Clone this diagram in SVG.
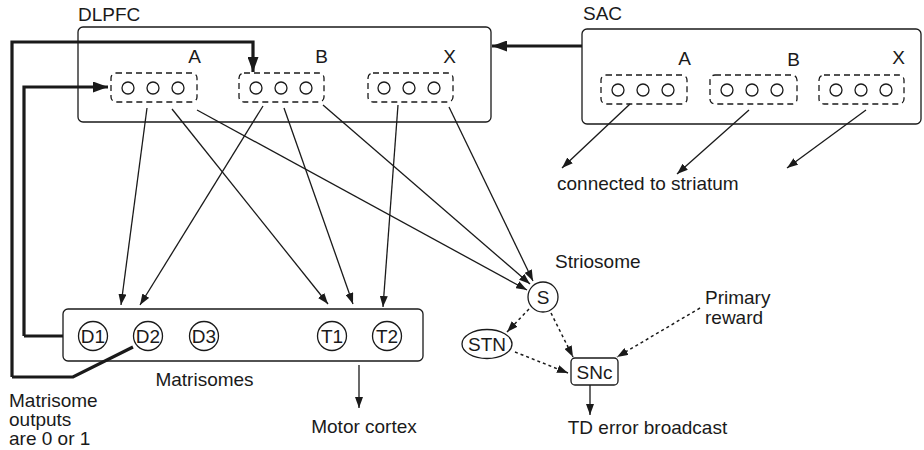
<svg xmlns="http://www.w3.org/2000/svg" width="924" height="450" viewBox="0 0 924 450">
<defs>
<style>
text{font-family:"Liberation Sans",Arial,sans-serif;font-size:19px;fill:#1a1a1a}
.box{fill:#fff;stroke:#1a1a1a;stroke-width:1.3}
.grp{fill:none;stroke:#1a1a1a;stroke-width:1.3;stroke-dasharray:6 4}
.unit{fill:#fff;stroke:#1a1a1a;stroke-width:1.3}
.node{fill:#fff;stroke:#1a1a1a;stroke-width:1.3}
.lbl{font-size:19px;text-anchor:middle}
.ln{fill:none;stroke:#1a1a1a;stroke-width:1.3;marker-end:url(#ah)}
.dl{fill:none;stroke:#1a1a1a;stroke-width:1.5;stroke-dasharray:3 3;marker-end:url(#ah)}
.tk{fill:none;stroke:#1a1a1a;stroke-width:3.2}
.tka{fill:none;stroke:#1a1a1a;stroke-width:3.2;marker-end:url(#ahk)}
</style>
<marker id="ah" markerUnits="userSpaceOnUse" markerWidth="12" markerHeight="8" refX="11" refY="4" orient="auto"><path d="M0,0 L11,4 L0,8 z" fill="#1a1a1a"/></marker>
<marker id="ahk" markerUnits="userSpaceOnUse" markerWidth="16" markerHeight="11" refX="15" refY="5.5" orient="auto"><path d="M0,0 L15,5.5 L0,11 z" fill="#1a1a1a"/></marker>
</defs>
<rect width="924" height="450" fill="#fff"/>

<g id="dlpfc">
<text x="78" y="21">DLPFC</text>
<rect class="box" x="78" y="27" width="413" height="95" rx="5"/>
<g id="dlpfc-A">
<rect class="grp" x="111" y="73" width="86" height="29" rx="5"/>
<circle class="unit" cx="128" cy="88" r="6"/><circle class="unit" cx="153" cy="88" r="6"/><circle class="unit" cx="178" cy="88" r="6"/>
<text x="201" y="63" text-anchor="end">A</text>
</g>
<g id="dlpfc-B">
<rect class="grp" x="239" y="73" width="85" height="29" rx="5"/>
<circle class="unit" cx="256" cy="88" r="6"/><circle class="unit" cx="281" cy="88" r="6"/><circle class="unit" cx="306" cy="88" r="6"/>
<text x="328" y="63" text-anchor="end">B</text>
</g>
<g id="dlpfc-X">
<rect class="grp" x="368" y="73" width="85" height="29" rx="5"/>
<circle class="unit" cx="384" cy="88" r="6"/><circle class="unit" cx="409" cy="88" r="6"/><circle class="unit" cx="434" cy="88" r="6"/>
<text x="456" y="63" text-anchor="end">X</text>
</g>
</g>

<g id="sac">
<text x="583" y="20">SAC</text>
<rect class="box" x="582" y="29" width="339" height="95" rx="5"/>
<g id="sac-A">
<rect class="grp" x="601" y="75" width="86" height="29" rx="5"/>
<circle class="unit" cx="618" cy="90" r="6"/><circle class="unit" cx="643" cy="90" r="6"/><circle class="unit" cx="668" cy="90" r="6"/>
<text x="691" y="65" text-anchor="end">A</text>
</g>
<g id="sac-B">
<rect class="grp" x="710" y="75" width="87" height="29" rx="5"/>
<circle class="unit" cx="727" cy="90" r="6"/><circle class="unit" cx="752" cy="90" r="6"/><circle class="unit" cx="777" cy="90" r="6"/>
<text x="800" y="66" text-anchor="end">B</text>
</g>
<g id="sac-X">
<rect class="grp" x="819" y="75" width="85" height="29" rx="5"/>
<circle class="unit" cx="836" cy="90" r="6"/><circle class="unit" cx="861" cy="90" r="6"/><circle class="unit" cx="886" cy="90" r="6"/>
<text x="905" y="64" text-anchor="end">X</text>
</g>
</g>

<g id="matrisomes">
<rect class="box" x="63" y="309" width="360" height="52" rx="5"/>
<g id="D1"><circle class="node" cx="93" cy="336" r="14.5"/><text class="lbl" x="93" y="343">D1</text></g>
<g id="D2"><circle class="node" cx="148" cy="336" r="14.5"/><text class="lbl" x="148" y="343">D2</text></g>
<g id="D3"><circle class="node" cx="204" cy="336" r="14.5"/><text class="lbl" x="204" y="343">D3</text></g>
<g id="T1"><circle class="node" cx="332" cy="336" r="14.5"/><text class="lbl" x="332" y="343">T1</text></g>
<g id="T2"><circle class="node" cx="387" cy="336" r="14.5"/><text class="lbl" x="387" y="343">T2</text></g>
<text x="204.5" y="386" text-anchor="middle">Matrisomes</text>
</g>

<g id="striosome">
<circle class="node" cx="543" cy="297" r="15"/>
<text x="543" y="304" text-anchor="middle">S</text>
<text x="555" y="268">Striosome</text>
</g>
<g id="stn">
<ellipse class="node" cx="487" cy="344" rx="25" ry="14.5"/>
<text x="487" y="351" text-anchor="middle">STN</text>
</g>
<g id="snc">
<rect class="node" x="571" y="358" width="47" height="27" rx="4"/>
<text x="594.5" y="378.5" text-anchor="middle">SNc</text>
</g>

<g id="labels">
<text x="557" y="190">connected to striatum</text>
<text x="9" y="407">Matrisome</text>
<text x="9" y="426">outputs</text>
<text x="9" y="445">are 0 or 1</text>
<text x="364" y="433" text-anchor="middle">Motor cortex</text>
<text x="705" y="304">Primary</text>
<text x="705" y="324">reward</text>
<text x="647.5" y="434" text-anchor="middle">TD error broadcast</text>
</g>

<g id="connectors">
<path class="tka" d="M582,46 H492"/>
<path class="tka" d="M12,377 V42 H253 V72"/>
<path class="tka" d="M24,336 V87 H108"/>
<path class="tk" d="M63,336 H24"/>
<path class="tk" d="M12,377 H73 L133,347"/>
<line class="ln" x1="147" y1="108" x2="121" y2="305"/>
<line class="ln" x1="172" y1="109" x2="328" y2="304"/>
<line class="ln" x1="197" y1="110" x2="527" y2="290"/>
<line class="ln" x1="263" y1="106" x2="140" y2="305"/>
<line class="ln" x1="284" y1="108" x2="353" y2="304"/>
<line class="ln" x1="323" y1="105" x2="530" y2="284"/>
<line class="ln" x1="398" y1="105" x2="383" y2="307"/>
<line class="ln" x1="449" y1="107" x2="533" y2="281"/>
<line class="ln" x1="630" y1="104" x2="562" y2="168"/>
<line class="ln" x1="749" y1="110" x2="677" y2="174"/>
<line class="ln" x1="866" y1="110" x2="787" y2="168"/>
<line class="ln" x1="359" y1="365" x2="359" y2="408"/>
<line class="ln" x1="590" y1="385" x2="590" y2="415"/>
<line class="dl" x1="529" y1="309" x2="507" y2="332"/>
<line class="dl" x1="551" y1="313" x2="573" y2="357"/>
<line class="dl" x1="515" y1="352" x2="568" y2="373"/>
<line class="dl" x1="700" y1="308" x2="617" y2="357"/>
</g>
</svg>
